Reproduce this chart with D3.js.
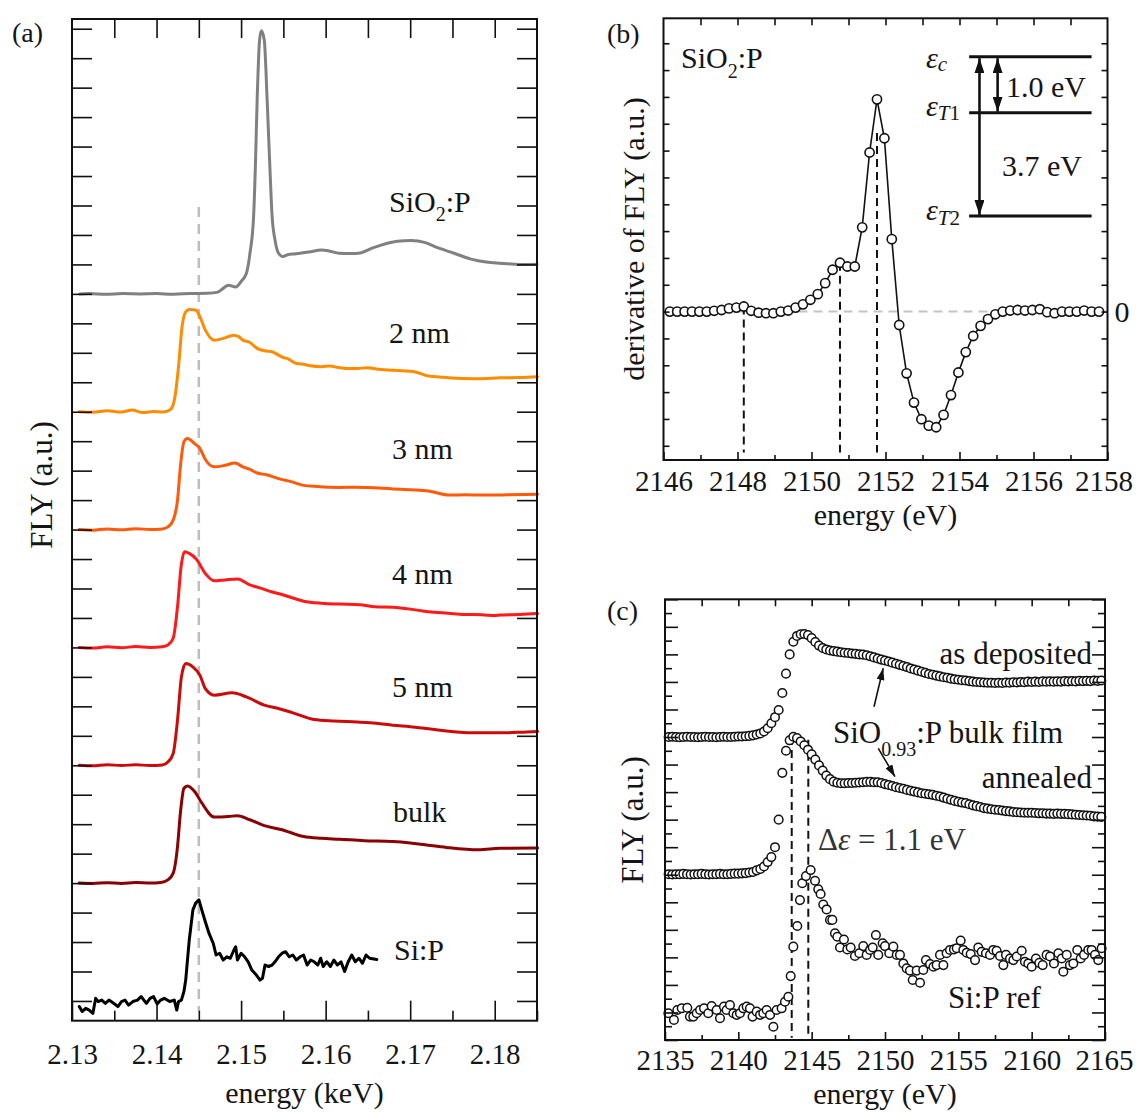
<!DOCTYPE html>
<html>
<head>
<meta charset="utf-8">
<script src="https://cdn.jsdelivr.net/npm/d3@7"></script>
<style>
  body { margin: 0; background: #fff; }
  svg text { font-family: 'Liberation Serif', 'Times New Roman', serif; fill: #151515; }
</style>
</head>
<body>
<script>
// ---------------- panel (a): FLY spectra of the films (energy in keV, stacked) ----------------
const namesA   = ["SiO2:P", "2 nm", "3 nm", "4 nm", "5 nm", "bulk", "Si:P"];
const colorsA  = ["#808080", "#ff8c00", "#ff5a0a", "#ff1a1a", "#cc0a0a", "#8b0000", "#000000"];
const offsetsA = [24, 20, 16, 12, 8, 4, 0];

const specSiO2 = [[2.1309,0],[2.1320,0.01],[2.1340,-0.01],[2.1360,0.01],[2.1380,0],[2.1400,0.01],[2.1420,-0.01],[2.1440,0.01],[2.1460,0.02],[2.14725,0.06],[2.14767,0.14],[2.14852,0.29],[2.14936,0.23],[2.1500,0.42],[2.15063,0.70],[2.15105,1.38],[2.15148,2.63],[2.15169,4.32],[2.15190,6.59],[2.15219,8.62],[2.15240,8.93],[2.15274,8.62],[2.15308,6.59],[2.15337,4.55],[2.15367,2.63],[2.15401,1.83],[2.15443,1.38],[2.15494,1.27],[2.1555,1.33],[2.1565,1.36],[2.1580,1.42],[2.1595,1.49],[2.1605,1.45],[2.1616,1.38],[2.1630,1.37],[2.1641,1.39],[2.1655,1.55],[2.1671,1.70],[2.1685,1.79],[2.1701,1.81],[2.1718,1.74],[2.1734,1.55],[2.1752,1.38],[2.1772,1.18],[2.1790,1.08],[2.1806,1.04],[2.1830,1.00],[2.1850,1.01]];
const spec2nm = [[2.13086,0],[2.13247,-0.02],[2.13416,0.03],[2.13585,-0.01],[2.13711,0.06],[2.13838,-0.03],[2.13965,0.01],[2.1407,-0.01],[2.14134,0.03],[2.14176,0.11],[2.14218,0.51],[2.1426,1.53],[2.14302,2.89],[2.14345,3.39],[2.14387,3.47],[2.14463,3.45],[2.14514,3.22],[2.14577,2.77],[2.14683,2.43],[2.14789,2.49],[2.14915,2.60],[2.14970,2.55],[2.15021,2.43],[2.1510,2.36],[2.1519,2.15],[2.1530,2.06],[2.1537,2.03],[2.15443,1.92],[2.1550,1.84],[2.1555,1.80],[2.15654,1.64],[2.1572,1.62],[2.1580,1.57],[2.1595,1.53],[2.1605,1.55],[2.1615,1.50],[2.1625,1.47],[2.16372,1.47],[2.1650,1.49],[2.1660,1.45],[2.16795,1.41],[2.1690,1.39],[2.17049,1.36],[2.17217,1.21],[2.1740,1.17],[2.1764,1.13],[2.1785,1.12],[2.18062,1.15],[2.1830,1.16],[2.18506,1.19]];
const spec3nm = [[2.13086,0],[2.13247,-0.02],[2.13416,0.02],[2.13585,-0.01],[2.13754,0.03],[2.13923,0],[2.1407,0.02],[2.14134,0.09],[2.14197,0.32],[2.14248,1.0],[2.14282,2.13],[2.14324,2.98],[2.14366,3.09],[2.1445,2.92],[2.14514,2.75],[2.14577,2.38],[2.14683,2.13],[2.1481,2.18],[2.14928,2.26],[2.15021,2.13],[2.1510,2.05],[2.1519,1.92],[2.1530,1.86],[2.15443,1.73],[2.1560,1.62],[2.15739,1.50],[2.1590,1.46],[2.16161,1.43],[2.1635,1.44],[2.165,1.43],[2.16795,1.38],[2.1700,1.35],[2.17217,1.31],[2.17471,1.17],[2.1765,1.18],[2.1785,1.17],[2.1815,1.18],[2.18506,1.20]];
const spec4nm = [[2.13086,0],[2.13247,-0.02],[2.13416,0.02],[2.13585,-0.01],[2.13754,0.03],[2.13923,0],[2.1407,0.02],[2.14134,0.08],[2.14197,0.31],[2.14248,1.38],[2.1429,2.74],[2.14332,3.25],[2.14387,3.19],[2.14472,2.99],[2.14577,2.51],[2.14683,2.26],[2.1481,2.29],[2.14957,2.32],[2.15105,2.12],[2.1520,2.04],[2.15358,1.89],[2.1550,1.78],[2.15739,1.57],[2.1595,1.50],[2.16161,1.47],[2.1640,1.45],[2.16584,1.38],[2.16795,1.36],[2.1700,1.30],[2.17217,1.21],[2.1745,1.16],[2.1764,1.12],[2.1785,1.11],[2.1800,1.08],[2.18062,1.10],[2.1830,1.12],[2.18506,1.15]];
const spec5nm = [[2.13086,0],[2.13247,-0.02],[2.13416,0.02],[2.13585,-0.01],[2.13754,0.02],[2.13923,-0.01],[2.1407,0.01],[2.14134,0.11],[2.14197,0.40],[2.14248,1.53],[2.14294,3.0],[2.14345,3.45],[2.1443,3.34],[2.14514,3.05],[2.14577,2.60],[2.14683,2.38],[2.14894,2.46],[2.15063,2.32],[2.15274,2.04],[2.1545,1.92],[2.15612,1.78],[2.15865,1.55],[2.1610,1.50],[2.16372,1.47],[2.1660,1.43],[2.16795,1.36],[2.1700,1.31],[2.17217,1.24],[2.17555,1.13],[2.1780,1.10],[2.18062,1.10],[2.1830,1.12],[2.18506,1.15]];
const specBulk = [[2.13086,0],[2.13247,-0.01],[2.13416,0.01],[2.13585,-0.01],[2.13754,0.02],[2.13923,0],[2.14049,0.02],[2.14134,0.11],[2.14197,0.34],[2.14248,1.24],[2.14282,2.38],[2.14324,3.22],[2.14366,3.30],[2.1445,3.11],[2.14535,2.72],[2.14683,2.24],[2.14852,2.26],[2.14957,2.29],[2.15105,2.15],[2.15274,1.95],[2.15485,1.81],[2.1560,1.70],[2.15739,1.58],[2.1595,1.52],[2.16161,1.49],[2.16457,1.44],[2.16795,1.41],[2.1700,1.36],[2.17175,1.30],[2.17429,1.21],[2.17809,1.13],[2.18062,1.18],[2.18506,1.19]];
const specSiP = [[2.13086,-0.19],[2.1312,-0.36],[2.13162,-0.25],[2.13204,-0.31],[2.13247,-0.42],[2.1328,0.09],[2.1331,-0.02],[2.13352,0.03],[2.13395,-0.08],[2.13437,0.03],[2.13492,-0.08],[2.13543,-0.19],[2.13585,-0.02],[2.13627,0.03],[2.13669,-0.14],[2.1372,-0.02],[2.13775,0.03],[2.13817,0.15],[2.1388,-0.08],[2.13923,0.09],[2.13965,0.15],[2.14007,-0.1],[2.14049,0.03],[2.14092,0.09],[2.14155,-0.02],[2.1421,0.03],[2.14239,-0.31],[2.1426,-0.02],[2.14294,0.03],[2.14324,0.32],[2.14345,0.71],[2.14387,2.07],[2.1443,3.09],[2.14463,3.32],[2.14501,3.43],[2.14535,3.09],[2.14577,2.69],[2.1462,2.30],[2.1467,1.96],[2.14704,1.56],[2.14746,1.62],[2.14789,1.39],[2.14831,1.50],[2.14873,1.45],[2.14915,1.73],[2.14936,1.84],[2.14957,1.39],[2.15,1.62],[2.15042,1.50],[2.15084,1.33],[2.15127,1.05],[2.15181,0.88],[2.15224,0.71],[2.15253,0.77],[2.15283,1.22],[2.15325,1.17],[2.15367,1.22],[2.15401,1.33],[2.15443,1.50],[2.15485,1.62],[2.15528,1.67],[2.1557,1.50],[2.15612,1.56],[2.15654,1.39],[2.15697,1.50],[2.15739,1.56],[2.15781,1.22],[2.15823,1.39],[2.15865,1.33],[2.15908,1.22],[2.15941,1.45],[2.15971,1.17],[2.16013,1.33],[2.16056,1.17],[2.16098,1.39],[2.1614,1.22],[2.16182,1.33],[2.16224,1.0],[2.16267,1.33],[2.16309,1.56],[2.16351,1.33],[2.16393,1.45],[2.16436,1.28],[2.16478,1.56],[2.1652,1.45],[2.16605,1.41]];
const spectraA = [specSiO2, spec2nm, spec3nm, spec4nm, spec5nm, specBulk, specSiP];
const ticksAmajor = [2.13, 2.14, 2.15, 2.16, 2.17, 2.18];
const ticksAminor = [2.135, 2.145, 2.155, 2.165, 2.175, 2.185];
const ticksAtop   = [2.135, 2.14, 2.145, 2.15, 2.155, 2.16, 2.165, 2.17, 2.175, 2.18];
const edgeMarkA   = 2.145;

// ---------------- panel (b): derivative of FLY for SiO2:P ----------------
const derivE = [2146.17,2146.37,2146.57,2146.77,2146.97,2147.17,2147.37,2147.57,2147.77,2147.97,
  2148.17,2148.37,2148.57,2148.77,2148.97,2149.17,2149.37,2149.57,2149.77,2149.97,
  2150.17,2150.37,2150.57,2150.77,2150.97,2151.17,2151.37,2151.57,2151.77,2151.97,
  2152.17,2152.37,2152.57,2152.77,2152.97,2153.17,2153.37,2153.57,2153.77,2153.97,
  2154.17,2154.37,2154.57,2154.77,2154.97,2155.17,2155.37,2155.57,2155.77,2155.97,
  2156.17,2156.37,2156.57,2156.77,2156.97,2157.17,2157.37,2157.57,2157.77];
const derivY = [0,0,0,0,0,0,0.03,0.06,0.12,0.15,
  0.19,0.03,-0.04,-0.06,-0.06,0,0.04,0.15,0.27,0.44,
  0.65,1.06,1.56,1.82,1.68,1.68,3.14,5.93,7.91,6.46,
  2.70,-0.5,-2.3,-3.39,-4.01,-4.25,-4.31,-3.85,-3.11,-2.27,
  -1.51,-0.91,-0.53,-0.28,-0.1,0,0.04,0.06,0.04,0.06,
  0.09,-0.02,-0.06,0,0,0,0.04,0,0];
const derivMarks = [[2148.17, 0.19], [2150.77, 1.82], [2151.77, 6.66]];
const levelNames = ["c", "T1", "T2"];
const levelY     = [9.5, 7.41, 3.56];

// ---------------- panel (c): SiO0.93:P bulk film vs Si:P reference ----------------
const gridC = [2135.25,2135.5,2135.75,
  2136,2136.25,2136.5,2136.75, 2137,2137.25,2137.5,2137.75, 2138,2138.25,2138.5,2138.75, 2139,2139.25,2139.5,2139.75,
  2140,2140.25,2140.5,2140.75, 2141,2141.25,2141.5,2141.75, 2142,2142.25,2142.5,2142.75, 2143,2143.25,2143.5,2143.75,
  2144,2144.25,2144.5,2144.75, 2145,2145.25,2145.5,2145.75, 2146,2146.25,2146.5,2146.75, 2147,2147.25,2147.5,2147.75,
  2148,2148.25,2148.5,2148.75, 2149,2149.25,2149.5,2149.75, 2150,2150.25,2150.5,2150.75, 2151,2151.25,2151.5,2151.75,
  2152,2152.25,2152.5,2152.75, 2153,2153.25,2153.5,2153.75, 2154,2154.25,2154.5,2154.75, 2155,2155.25,2155.5,2155.75,
  2156,2156.25,2156.5,2156.75, 2157,2157.25,2157.5,2157.75, 2158,2158.25,2158.5,2158.75, 2159,2159.25,2159.5,2159.75,
  2160,2160.25,2160.5,2160.75, 2161,2161.25,2161.5,2161.75, 2162,2162.25,2162.5,2162.75, 2163,2163.25,2163.5,2163.75,
  2164,2164.25,2164.5,2164.75];
const asDeposited = [11.0,11.01,11.0,
  10.99,11.0,11.01,11.0, 11.0,10.99,11.0,11.01, 11.0,11.0,10.99,11.0, 11.01,11.0,11.0,11.01,
  11.02,11.02,11.03,11.04, 11.06,11.09,11.13,11.2, 11.32,11.5,11.72,11.98, 12.6,13.3,14.0,14.46,
  14.67,14.73,14.74,14.7, 14.59,14.45,14.32,14.23, 14.18,14.14,14.12,14.1, 14.08,14.06,14.05,14.03,
  14.02,14.0,13.99,13.97, 13.93,13.89,13.85,13.81, 13.78,13.74,13.7,13.66, 13.62,13.58,13.54,13.49,
  13.45,13.41,13.37,13.33, 13.29,13.26,13.23,13.2, 13.17,13.15,13.12,13.1, 13.08,13.06,13.05,13.03,
  13.01,13.0,12.99,12.98, 12.97,12.97,12.96,12.97, 12.96,12.98,12.97,12.99, 12.98,13.0,12.99,13.01,
  13.0,13.01,13.0,13.02, 13.01,13.02,13.01,13.02, 13.01,13.03,13.02,13.03, 13.02,13.04,13.03,13.04,
  13.03,13.05,13.04,13.05];
const annealed = [6.02,6.01,6.02,
  6.02,6.03,6.02,6.01, 6.02,6.02,6.03,6.02, 6.01,6.02,6.02,6.03, 6.02,6.02,6.03,6.04,
  6.04,6.05,6.06,6.08, 6.1,6.16,6.21,6.3, 6.46,6.64,7.0,8.0, 9.7,10.5,10.88,11.01,
  10.96,10.84,10.7,10.54, 10.37,10.18,9.97,9.78, 9.6,9.47,9.38,9.34, 9.32,9.32,9.33,9.33,
  9.34,9.35,9.36,9.37, 9.37,9.36,9.36,9.33, 9.29,9.26,9.22,9.18, 9.15,9.12,9.08,9.05,
  9.02,8.99,8.96,8.94, 8.92,8.9,8.87,8.84, 8.8,8.76,8.72,8.68, 8.65,8.62,8.6,8.56,
  8.52,8.49,8.46,8.42, 8.4,8.38,8.36,8.35, 8.33,8.31,8.3,8.28, 8.27,8.26,8.25,8.25,
  8.25,8.24,8.23,8.23, 8.22,8.22,8.21,8.22, 8.21,8.21,8.2,8.19, 8.18,8.17,8.16,8.15,
  8.14,8.12,8.11,8.1];
const siRef = [[2135.23,0.97],[2135.61,0.73],[2135.84,1.09],[2136.14,1.15],[2136.52,1.17],[2136.70,0.85],[2136.93,0.85],[2137.16,0.97],[2137.39,1.09],[2137.66,1.15],[2137.95,0.97],[2138.18,1.23],[2138.52,1.09],[2138.75,0.79],[2139.02,1.21],[2139.20,1.09],[2139.43,1.27],[2139.66,0.97],[2139.89,0.91],[2140.11,0.97],[2140.34,1.15],[2140.57,1.21],[2140.79,1.15],[2140.97,0.85],[2141.25,1.03],[2141.48,0.91],[2141.70,0.97],[2141.93,1.09],[2142.16,0.91],[2142.39,0.48],[2142.61,1.09],[2142.95,1.15],[2143.18,1.39],[2143.41,1.57],[2143.57,2.32],[2143.75,3.39],[2144.02,4.14],[2144.20,5.08],[2144.36,5.69],[2144.61,5.95],[2144.93,6.17],[2145.23,5.78],[2145.45,5.47],[2145.61,5.30],[2145.79,4.92],[2146.02,4.74],[2146.25,4.36],[2146.41,4.36],[2146.59,3.87],[2146.75,3.75],[2146.93,3.36],[2147.20,3.65],[2147.43,3.29],[2147.66,3.36],[2147.95,3.05],[2148.25,3.15],[2148.52,3.41],[2148.75,3.09],[2148.98,3.27],[2149.16,3.36],[2149.38,3.81],[2149.54,3.09],[2149.84,3.51],[2150.00,3.41],[2150.29,3.15],[2150.57,3.39],[2150.80,3.09],[2151.02,3.09],[2151.25,2.78],[2151.48,2.60],[2151.70,2.52],[2151.89,2.18],[2152.16,2.52],[2152.39,2.08],[2152.61,2.54],[2152.79,2.90],[2153.07,2.76],[2153.30,2.66],[2153.52,2.72],[2153.75,3.09],[2153.98,2.72],[2154.20,3.15],[2154.43,3.27],[2154.70,3.29],[2154.89,3.33],[2155.16,3.61],[2155.34,3.27],[2155.57,3.17],[2155.84,3.12],[2156.14,2.90],[2156.36,3.36],[2156.59,3.20],[2156.88,3.15],[2157.16,3.09],[2157.38,3.27],[2157.61,3.24],[2157.84,3.05],[2158.07,2.72],[2158.25,3.09],[2158.52,2.96],[2158.75,2.90],[2158.98,3.03],[2159.32,3.24],[2159.54,2.84],[2159.77,2.78],[2160.00,2.66],[2160.29,2.96],[2160.52,2.80],[2160.75,2.72],[2161.02,3.09],[2161.25,3.03],[2161.52,2.78],[2161.82,3.15],[2162.05,2.96],[2162.16,2.48],[2162.39,3.09],[2162.61,2.72],[2162.84,2.78],[2163.11,3.27],[2163.34,2.96],[2163.57,3.09],[2163.86,3.27],[2164.09,3.27],[2164.32,3.09],[2164.54,2.90],[2164.77,3.33]];
const edgeMarksC = [[2143.64, 11.0], [2144.77, 10.9]];

// ---------------- drawing ----------------
const W = 1136, H = 1113;
const INK = "#111";
const FS = 30;
const TICK_FS = 29;
const svg = d3.select("body").append("svg").attr("width", W).attr("height", H);

const defs = svg.append("defs");
function arrowMarker(id, len, half) {
  defs.append("marker").attr("id", id)
    .attr("viewBox", `0 ${-half} ${len} ${2 * half}`)
    .attr("refX", len).attr("refY", 0)
    .attr("markerWidth", len).attr("markerHeight", 2 * half)
    .attr("markerUnits", "userSpaceOnUse")
    .attr("orient", "auto-start-reverse")
    .append("path").attr("d", `M0,${-half}L${len},0L0,${half}Z`).attr("fill", INK);
}
arrowMarker("headBig", 15, 5);
arrowMarker("headSmall", 12, 4);

// inward ticks on all four sides, labels only on the bottom axis
function styleAxis(sel) {
  sel.select(".domain").remove();
  sel.attr("color", INK).attr("font-size", TICK_FS)
     .attr("font-family", "'Liberation Serif', 'Times New Roman', serif");
  sel.selectAll("line").attr("stroke-width", 1.6);
}
function frame(x, y, cfg) {
  const [x0, x1] = x.range(), [yb, yt] = y.range();
  const g = svg.append("g");
  const put = (gen, tr) => g.append("g").attr("transform", tr).call(gen).call(styleAxis);
  const bottom = put(d3.axisBottom(x).tickValues(cfg.xMajor).tickSize(-cfg.xMajorLen).tickPadding(cfg.pad).tickFormat(cfg.fmt), `translate(0,${yb})`);
  // keep the last label inside the page
  if (cfg.lastShift) bottom.selectAll(".tick text").filter((d, i, n) => i === n.length - 1).attr("dx", cfg.lastShift);
  if (cfg.xMinor) put(d3.axisBottom(x).tickValues(cfg.xMinor).tickSize(-cfg.xMinorLen).tickFormat(""), `translate(0,${yb})`);
  put(d3.axisTop(x).tickValues(cfg.xTop).tickSize(-cfg.xTopLen).tickFormat(""), `translate(0,${yt})`);
  put(d3.axisLeft(y).tickValues(cfg.yMajor).tickSize(-cfg.yMajorLen).tickFormat(""), `translate(${x0},0)`);
  put(d3.axisRight(y).tickValues(cfg.yMajor).tickSize(-cfg.yMajorLen).tickFormat(""), `translate(${x1},0)`);
  if (cfg.yMinor) {
    put(d3.axisLeft(y).tickValues(cfg.yMinor).tickSize(-cfg.yMinorLen).tickFormat(""), `translate(${x0},0)`);
    put(d3.axisRight(y).tickValues(cfg.yMinor).tickSize(-cfg.yMinorLen).tickFormat(""), `translate(${x1},0)`);
  }
  g.append("rect").attr("x", x0).attr("y", yt).attr("width", x1 - x0).attr("height", yb - yt)
    .attr("fill", "none").attr("stroke", INK).attr("stroke-width", 2);
  return g;
}
function label(x, y, str, opts = {}) {
  const t = svg.append("text").attr("x", x).attr("y", y).attr("font-size", opts.size || FS)
    .attr("text-anchor", opts.anchor || "start").text(str);
  if (opts.rotate) t.attr("transform", `rotate(-90,${x},${y})`);
  if (opts.fill) t.style("fill", opts.fill);
  return t;
}
function subLabel(x, y, parts, opts = {}) {
  // parts: [text, isSub]
  const t = svg.append("text").attr("x", x).attr("y", y).attr("font-size", opts.size || FS)
    .attr("text-anchor", opts.anchor || "start");
  let shifted = false;
  parts.forEach(([s, sub]) => {
    const sp = t.append("tspan").text(s);
    if (sub && !shifted) { sp.attr("dy", opts.dy || 9).attr("font-size", opts.subSize || 20); shifted = true; }
    else if (!sub && shifted) { sp.attr("dy", -(opts.dy || 9)); shifted = false; }
    else if (sub) sp.attr("font-size", opts.subSize || 20);
  });
  return t;
}

// ---- panel (a)
const xA = d3.scaleLinear().domain([2.13, 2.185]).range([72, 537]);
const yA = d3.scaleLinear().domain([-0.67, 33.33]).range([1020.7, 19]);

svg.append("line")
  .attr("x1", xA(edgeMarkA)).attr("x2", xA(edgeMarkA))
  .attr("y1", yA(26.95)).attr("y2", yA(-0.35))
  .attr("stroke", "#bdbdbd").attr("stroke-width", 2.5).attr("stroke-dasharray", "10,7");

spectraA.forEach((spec, i) => {
  const line = d3.line()
    .x(d => xA(d[0])).y(d => yA(d[1] + offsetsA[i]))
    .curve(i === 6 ? d3.curveLinear : d3.curveMonotoneX);
  svg.append("path").datum(spec).attr("d", line)
    .attr("fill", "none").attr("stroke", colorsA[i]).attr("stroke-width", 3)
    .attr("stroke-linejoin", "round").attr("stroke-linecap", "round");
});

frame(xA, yA, {
  xMajor: ticksAmajor, xMajorLen: 20, xMinor: ticksAminor, xMinorLen: 10,
  xTop: ticksAtop, xTopLen: 19, yMajor: d3.range(0, 34), yMajorLen: 20,
  pad: 23, fmt: d3.format(".2f")
});

const labelPosA = [[389, 212], [389, 343], [392, 459], [392, 584], [392, 697], [393, 822], [394, 960]];
namesA.forEach((n, i) => {
  const [lx, ly] = labelPosA[i];
  if (i === 0) subLabel(lx, ly, [["SiO", false], ["2", true], [":P", false]]);
  else label(lx, ly, n);
});
label(12, 42, "(a)", { size: 28 });
label(52, 485, "FLY (a.u.)", { rotate: true, anchor: "middle", size: 31 });
label(304.5, 1103, "energy (keV)", { anchor: "middle" });

// ---- panel (b)
const xB = d3.scaleLinear().domain([2146, 2158]).range([663.5, 1107.5]);
const yB = d3.scaleLinear().domain([-5.53, 10.93]).range([460, 18.3]);

svg.append("line").attr("x1", xB(2146)).attr("x2", xB(2158)).attr("y1", yB(0)).attr("y2", yB(0))
  .attr("stroke", "#c4c4c4").attr("stroke-width", 2).attr("stroke-dasharray", "9,6");
derivMarks.forEach(([e, top]) => {
  svg.append("line").attr("x1", xB(e)).attr("x2", xB(e)).attr("y1", yB(top)).attr("y2", yB(-5.25))
    .attr("stroke", INK).attr("stroke-width", 2).attr("stroke-dasharray", "8,5");
});
const derivPts = derivE.map((e, i) => [e, derivY[i]]);
svg.append("path").datum(derivPts)
  .attr("d", d3.line().x(d => xB(d[0])).y(d => yB(d[1])))
  .attr("fill", "none").attr("stroke", INK).attr("stroke-width", 1.6);
svg.append("g").selectAll("circle").data(derivPts).join("circle")
  .attr("cx", d => xB(d[0])).attr("cy", d => yB(d[1])).attr("r", 4.6)
  .attr("fill", "#fff").attr("stroke", INK).attr("stroke-width", 1.6);

frame(xB, yB, {
  xMajor: d3.range(2146, 2159, 2), xMajorLen: 8, xMinor: d3.range(2147, 2158, 2), xMinorLen: 5,
  xTop: d3.range(2147, 2158), xTopLen: 7, yMajor: d3.range(-5, 11), yMajorLen: 6,
  pad: 10, fmt: d3.format("d"), lastShift: -4
});
label(xB.range()[1] + 7, yB(0) + 10, "0");

// energy-level scheme
const lvX0 = xB(2154.26), lvX1 = xB(2157.57);
levelY.forEach(v => {
  svg.append("line").attr("x1", lvX0).attr("x2", lvX1).attr("y1", yB(v)).attr("y2", yB(v))
    .attr("stroke", INK).attr("stroke-width", 3);
});
[[2154.54, levelY[0], levelY[2]], [2155.03, levelY[0], levelY[1]]].forEach(([e, a, b]) => {
  svg.append("line").attr("x1", xB(e)).attr("x2", xB(e)).attr("y1", yB(a) + 1.5).attr("y2", yB(b) - 1)
    .attr("stroke", INK).attr("stroke-width", 2.6)
    .attr("marker-start", "url(#headBig)").attr("marker-end", "url(#headBig)");
});
const lvLabelY = [[68, 71], [116, 120], [220, 224.5]];
levelNames.forEach((n, i) => {
  const t = svg.append("text").attr("x", 926).attr("y", lvLabelY[i][0]).attr("font-size", 30);
  t.append("tspan").attr("font-style", "italic").text("ε");
  t.append("tspan").attr("font-size", 21).attr("font-style", "italic")
    .attr("dy", lvLabelY[i][1] - lvLabelY[i][0]).text(n[0]);
  if (n.length > 1) t.append("tspan").attr("font-size", 21).text(n.slice(1));
});
label(1006, 97, "1.0 eV");
label(1002, 176, "3.7 eV");
subLabel(681, 68, [["SiO", false], ["2", true], [":P", false]], { dy: 10 });
label(607, 43, "(b)", { size: 28 });
label(644, 239, "derivative of FLY (a.u.)", { rotate: true, anchor: "middle" });
label(885.5, 525, "energy (eV)", { anchor: "middle" });

// ---- panel (c)
const xC = d3.scaleLinear().domain([2135, 2165]).range([665, 1105]);
const yC = d3.scaleLinear().domain([0, 16]).range([1040, 599.3]);

edgeMarksC.forEach(([e, top]) => {
  svg.append("line").attr("x1", xC(e)).attr("x2", xC(e)).attr("y1", yC(top)).attr("y2", yC(0.08))
    .attr("stroke", INK).attr("stroke-width", 2).attr("stroke-dasharray", "8,5");
});
const seriesC = [gridC.map((e, i) => [e, asDeposited[i]]), gridC.map((e, i) => [e, annealed[i]]), siRef];
seriesC.forEach(pts => {
  svg.append("g").selectAll("circle").data(pts).join("circle")
    .attr("cx", d => xC(d[0])).attr("cy", d => yC(d[1])).attr("r", 4.3)
    .attr("fill", "#fff").attr("stroke", INK).attr("stroke-width", 1.5);
});

frame(xC, yC, {
  xMajor: d3.range(2135, 2166, 5), xMajorLen: 8, xMinor: d3.range(2137.5, 2165, 5), xMinorLen: 5,
  xTop: d3.range(2137.5, 2165, 2.5), xTopLen: 7, yMajor: d3.range(0, 17), yMajorLen: 13,
  yMinor: d3.range(0.5, 16, 1), yMinorLen: 7, pad: 9, fmt: d3.format("d"), lastShift: -1
});

// annotation arrows towards the two film spectra
[[[2149.25, 12.1], [2149.88, 13.5]], [[2149.54, 10.59], [2150.68, 9.56]]].forEach(([a, b]) => {
  svg.append("line").attr("x1", xC(a[0])).attr("y1", yC(a[1])).attr("x2", xC(b[0])).attr("y2", yC(b[1]))
    .attr("stroke", INK).attr("stroke-width", 1.6).attr("marker-end", "url(#headSmall)");
});
label(1092, 664, "as deposited", { anchor: "end", size: 31 });
subLabel(833, 743, [["SiO", false], ["0.93", true], [":P bulk film", false]], { dy: 13, subSize: 20, size: 31 });
label(1092, 788, "annealed", { anchor: "end", size: 31 });
const dLabel = svg.append("text").attr("x", 818).attr("y", 850).attr("font-size", 31).style("fill", "#333");
dLabel.append("tspan").text("Δ");
dLabel.append("tspan").attr("font-style", "italic").text("ε");
dLabel.append("tspan").text(" = 1.1 eV");
label(948, 1008, "Si:P ref", { size: 31 });
label(607, 620, "(c)", { size: 28 });
label(643, 820, "FLY (a.u.)", { rotate: true, anchor: "middle", size: 31 });
label(885, 1104, "energy (eV)", { anchor: "middle" });
</script>
</body>
</html>
